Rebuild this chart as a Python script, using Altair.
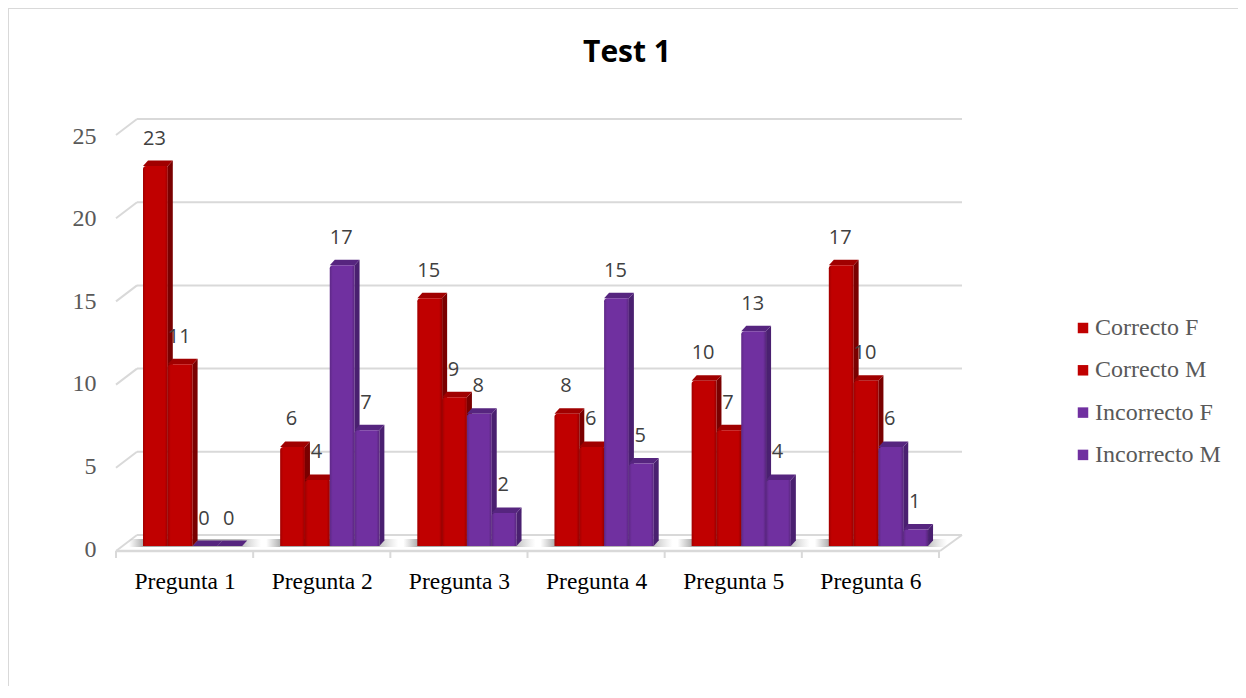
import altair as alt
import pandas as pd

categories = ["Pregunta 1", "Pregunta 2", "Pregunta 3", "Pregunta 4", "Pregunta 5", "Pregunta 6"]
series_names = ["Correcto F", "Correcto M", "Incorrecto F", "Incorrecto M"]
correcto_f = [23, 6, 15, 8, 10, 17]
correcto_m = [11, 4, 9, 6, 7, 10]
incorrecto_f = [0, 17, 8, 15, 13, 6]
incorrecto_m = [0, 7, 2, 5, 4, 1]
y_ticks = [0, 5, 10, 15, 20, 25]
chart_title = ["Test 1"]

front_colors = ["#C00000", "#C00000", "#7030A0", "#7030A0"]
side_colors = ["#7A0000", "#7A0000", "#4A2070", "#4A2070"]
top_colors = ["#A00000", "#A00000", "#56257F", "#56257F"]

# layout
PW, PH = 823, 413
LEFT, BASE = 116, 546
STEP = PW / 6
PX_PER_UNIT = PH / 25
BAR = 24.8 / STEP
DX = 5.0 / STEP
DY = 5.5 / PX_PER_UNIT
FIRST = 27 / STEP


def ux(px):
    return (px - LEFT) / STEP


def uy(py):
    return (BASE - py) / PX_PER_UNIT


rows, sides, tops = [], [], []
for s, vals in enumerate([correcto_f, correcto_m, incorrecto_f, incorrecto_m]):
    for c, v in enumerate(vals):
        x0 = c + FIRST + s * BAR
        x1 = x0 + BAR
        key = f"{c}-{s}"
        rows.append(dict(series=series_names[s], x0=x0, x1=x1, v=v,
                         mid=(x0 + x1) / 2, top=v + DY))
        sides += [
            dict(key=key, col=side_colors[s], x=x1, lo=0, hi=v),
            dict(key=key, col=side_colors[s], x=x1 + DX, lo=DY, hi=v + DY),
        ]
        tops += [
            dict(key=key, col=top_colors[s], x=x0, lo=v, hi=v),
            dict(key=key, col=top_colors[s], x=x0 + DX, lo=v, hi=v + DY),
            dict(key=key, col=top_colors[s], x=x1, lo=v, hi=v + DY),
            dict(key=key, col=top_colors[s], x=x1 + DX, lo=v + DY, hi=v + DY),
        ]
bars = pd.DataFrame(rows)

xs = alt.Scale(domain=[0, 6], nice=False, zero=False)
ys = alt.Scale(domain=[0, 25], nice=False, zero=False)

x_axis = alt.Axis(
    values=[0.5, 1.5, 2.5, 3.5, 4.5, 5.5], title=None, domain=False, ticks=False, grid=False,
    labelExpr="['" + "','".join(categories) + "'][floor(datum.value)]",
    labelFont="Liberation Serif", labelFontSize=23.5, labelColor="#000000",
    labelPadding=23, labelFlush=False, labelOverlap=False, labelBound=False)
y_axis = alt.Axis(
    values=y_ticks, title=None, domain=False, ticks=False, grid=False,
    labelFont="Liberation Serif", labelFontSize=24, labelColor="#595959",
    labelPadding=20, labelOffset=3, labelFlush=False, labelBound=False)


def X(field):
    return alt.X(field, scale=xs, axis=x_axis)


def Y(field):
    return alt.Y(field, scale=ys, axis=y_axis, stack=None)


GRID = "#D9D9D9"

# back gridlines and the slanted wall edges
grid_df = pd.DataFrame([dict(x=ux(137), x2=ux(962), y=uy(535 - 16.64 * t)) for t in y_ticks])
grid = alt.Chart(grid_df).mark_rule(color=GRID, strokeWidth=2).encode(
    x=X("x:Q"), x2="x2:Q", y=Y("y:Q"))

slant_rows = []
for t in y_ticks:
    slant_rows += [dict(k=t, x=ux(116), y=uy(551 - 16.64 * t)),
                   dict(k=t, x=ux(137), y=uy(535 - 16.64 * t))]
slant_rows += [dict(k=99, x=ux(940), y=uy(551)), dict(k=99, x=ux(962), y=uy(535))]
slants = alt.Chart(pd.DataFrame(slant_rows)).mark_line(color=GRID, strokeWidth=2).encode(
    x=X("x:Q"), y=Y("y:Q"), detail="k:N")

floor_df = pd.DataFrame([dict(x=ux(116), x2=ux(940), y=uy(551))])
floor = alt.Chart(floor_df).mark_rule(color=GRID, strokeWidth=2.5).encode(
    x=X("x:Q"), x2="x2:Q", y=Y("y:Q"))

tick_df = pd.DataFrame([dict(x=float(i), y=uy(551), y2=uy(558)) for i in range(7)])
xticks = alt.Chart(tick_df).mark_rule(color=GRID, strokeWidth=2).encode(
    x=X("x:Q"), y=Y("y:Q"), y2="y2:Q")

# page border
border_df = pd.DataFrame([
    dict(x=ux(8), x2=ux(1238), y=uy(8), y2=uy(8)),
    dict(x=ux(8), x2=ux(8), y=uy(8), y2=uy(690)),
])
border = alt.Chart(border_df).mark_rule(color=GRID, strokeWidth=2).encode(
    x=X("x:Q"), x2="x2:Q", y=Y("y:Q"), y2="y2:Q")

# soft shadow on the floor
shadow_df = pd.DataFrame([dict(x=c + FIRST - 14 / STEP, x2=c + FIRST + 4 * BAR + 19 / STEP,
                               y=uy(547), y2=uy(539)) for c in range(6)])
shadow = alt.Chart(shadow_df).mark_bar(color={
    "gradient": "linear", "x1": 0, "x2": 1, "y1": 0, "y2": 0,
    "stops": [dict(offset=0, color="rgba(170,170,170,0)"),
              dict(offset=0.12, color="rgba(165,165,165,1)"),
              dict(offset=0.85, color="rgba(190,190,190,1)"),
              dict(offset=1, color="rgba(210,210,210,0)")],
}).encode(x=X("x:Q"), x2="x2:Q", y=Y("y:Q"), y2="y2:Q")


def faces(rows_):
    return alt.Chart(pd.DataFrame(rows_)).mark_area(orient="vertical", interpolate="linear").encode(
        x=X("x:Q"),
        y=Y("hi:Q"),
        y2="lo:Q",
        detail="key:N",
        fill=alt.Fill("col:N", scale=None),
    )


side_layer = faces(sides)
top_layer = faces(tops)

# front faces carry the legend
front = alt.Chart(bars).mark_bar(cornerRadiusTopLeft=3, cornerRadiusTopRight=1).encode(
    x=X("x0:Q"),
    x2="x1:Q",
    y=Y("v:Q"),
    y2=alt.Y2(datum=0),
    color=alt.Color("series:N", scale=alt.Scale(domain=series_names, range=front_colors),
                    legend=alt.Legend(
                        title=None, orient="none", legendX=955, legendY=183,
                        symbolType="square", symbolSize=110, symbolStrokeWidth=0,
                        symbolOpacity=1, labelFont="Liberation Serif", labelFontSize=24,
                        labelColor="#595959", labelOffset=0, rowPadding=18.3, labelLimit=220)),
)

sheen = alt.Chart(bars).mark_bar(cornerRadiusTopLeft=3, cornerRadiusTopRight=1, color={
    "gradient": "linear", "x1": 0, "x2": 1, "y1": 0, "y2": 0,
    "stops": [dict(offset=0, color="rgba(0,0,0,0.16)"),
              dict(offset=0.12, color="rgba(0,0,0,0)"),
              dict(offset=0.88, color="rgba(0,0,0,0)"),
              dict(offset=1, color="rgba(0,0,0,0.22)")],
}).encode(x=X("x0:Q"), x2="x1:Q", y=Y("v:Q"), y2=alt.Y2(datum=0))

labels = alt.Chart(bars).mark_text(
    font="Open Sans", fontSize=20, color="#404040", dx=-1, dy=-16, baseline="alphabetic", align="center"
).encode(x=X("mid:Q"), y=Y("top:Q"), text=alt.Text("v:Q", format="d"))

title_df = pd.DataFrame([dict(x=ux(627), y=uy(62), t=chart_title[0])])
title = alt.Chart(title_df).mark_text(
    font="Open Sans", fontSize=30, fontWeight="bold", color="#000000",
    baseline="alphabetic", align="center"
).encode(x=X("x:Q"), y=Y("y:Q"), text="t:N")

chart = alt.layer(
    border, grid, slants, floor, xticks, shadow, side_layer, top_layer, front, sheen, labels, title
).properties(
    width=PW, height=PH,
    padding={"left": LEFT - 8, "top": 125, "right": 1230 - (LEFT - 8) - PW, "bottom": 140},
    autosize=alt.AutoSizeParams(type="none"),
    background="white",
).configure_view(stroke=None)

chart.save("out.html", embed_options={"renderer": "svg", "actions": False})
